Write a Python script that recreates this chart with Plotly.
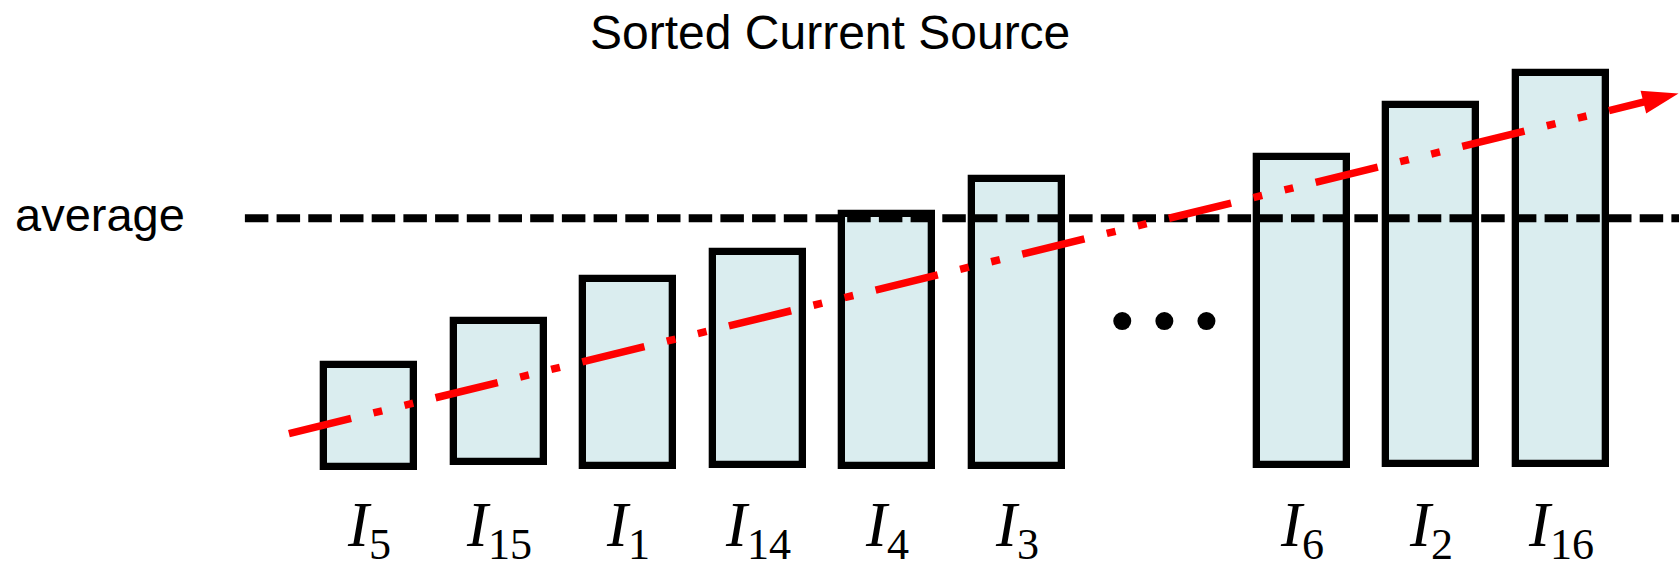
import plotly.graph_objects as go

# ---------------- data ----------------
title_text = "Sorted Current Source"
source_ids = ["5", "15", "1", "14", "4", "3", "6", "2", "16"]          # sorted current sources I_k
current_top = [0.408, 0.588, 0.756, 0.865, 1.019, 1.160, 1.249, 1.455, 1.587]  # relative to average
current_base = [-0.004, 0.016, 0.0, 0.004, 0.0, 0.0, 0.004, 0.008, 0.008]
average_level = 1.0
average_label = "average"
trend_x = [-0.62, 10.11]      # rising trend arrow (axis units)
trend_y = [0.132, 1.503]
n_before_gap = 6              # bars drawn before the "..." gap

# ---------------- layout constants ----------------
GAP = 1.2                     # extra slots taken by the ellipsis
X_RANGE = [-2.851, 10.114]
Y_RANGE = [-0.4176, 1.880]
BAR_FILL = "#DAEDEF"
RED = "#FF0000"

xpos = [i + (GAP if i >= n_before_gap else 0) for i in range(len(source_ids))]
heights = [t - b for t, b in zip(current_top, current_base)]
gap_center = (xpos[n_before_gap - 1] + xpos[n_before_gap]) / 2 + 0.04
dots_x = [gap_center - 0.325, gap_center, gap_center + 0.325]
dots_y = [0.586] * 3

fig = go.Figure()

fig.add_trace(go.Bar(
    x=xpos, y=heights, base=current_base, width=0.697,
    marker=dict(color=BAR_FILL, line=dict(color="black", width=7.3)),
    hoverinfo="skip", showlegend=False,
))

# average dashed line
fig.add_trace(go.Scatter(
    x=[-0.96, X_RANGE[1]], y=[average_level, average_level],
    mode="lines", line=dict(color="black", width=8, dash="23.5px,8.2px"),
    hoverinfo="skip", showlegend=False,
))

# trend arrow
fig.add_trace(go.Scatter(
    x=trend_x, y=trend_y, mode="lines+markers",
    line=dict(color=RED, width=7.5, dash="64px,23px,9px,23px,9px,23px"),
    marker=dict(symbol=["circle", "arrow"], size=[2, 38], color=RED,
                opacity=[0, 1], angleref="previous", line=dict(width=0)),
    hoverinfo="skip", showlegend=False, cliponaxis=False,
))

# ellipsis dots
fig.add_trace(go.Scatter(
    x=dots_x, y=dots_y, mode="markers",
    marker=dict(color="black", size=18, line=dict(width=0)),
    hoverinfo="skip", showlegend=False,
))

annotations = []
for xp, sid in zip(xpos, source_ids):
    annotations.append(dict(
        x=xp, y=-0.256, xref="x", yref="y", showarrow=False,
        text=f"<i>I</i><sub>{sid}</sub>",
        xanchor="center", yanchor="middle",
        font=dict(family="Liberation Serif", size=63, color="black"),
    ))
annotations.append(dict(
    x=13.3 / 1679, y=average_level + 0.015, xref="paper", yref="y", showarrow=False,
    text=average_label, xanchor="left", yanchor="middle",
    font=dict(family="Liberation Sans, Arial", size=47, color="black"),
))

fig.update_layout(
    width=1679, height=570,
    margin=dict(l=0, r=0, t=0, b=0),
    paper_bgcolor="white", plot_bgcolor="white",
    title=dict(text=title_text, x=830.2 / 1679, xanchor="center",
               y=1 - 32.5 / 570, yanchor="middle", yref="container",
               font=dict(family="Liberation Sans, Arial", size=48, color="black")),
    xaxis=dict(range=X_RANGE, visible=False, fixedrange=True),
    yaxis=dict(range=Y_RANGE, visible=False, fixedrange=True),
    annotations=annotations,
    showlegend=False,
    bargap=0,
)

fig.write_html("out.html", config={"displayModeBar": False},
               post_script="document.body.style.margin='0px';document.body.style.overflow='hidden';")
